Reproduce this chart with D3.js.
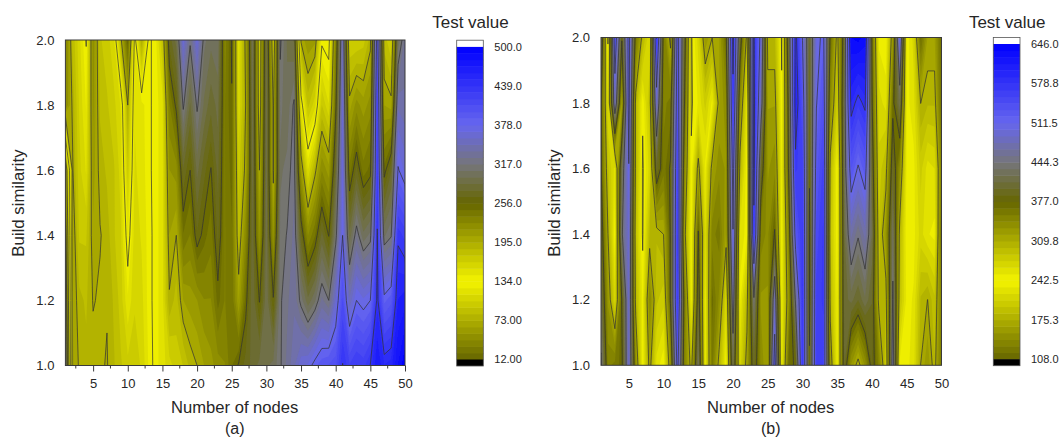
<!DOCTYPE html>
<html>
<head>
<meta charset="utf-8">
<script src="https://d3js.org/d3.v7.min.js"></script>
<style>
  html, body { margin: 0; padding: 0; background: #fff; }
  text { font-family: "Liberation Sans", Arial, sans-serif; fill: #262626; }
</style>
</head>
<body>
<div id="chart"></div>
<script>
// Build similarity levels, one value per column of the tables below
var simLevels = [1.0, 1.2, 1.4, 1.6, 1.8, 2.0];

// Panel (a) test value, one line per node (1..50)
var valuesA = [
  [330,300,270,230,40,35],
  [60,62,60,70,75,85],
  [75,80,95,100,105,110],
  [80,85,95,115,125,135],
  [78,72,65,58,50,45],
  [75,75,72,78,85,92],
  [72,74,78,85,92,98],
  [82,85,92,92,100,112],
  [92,98,102,108,115,190],
  [100,122,145,170,195,255],
  [98,105,108,112,115,125],
  [105,110,115,118,120,195],
  [125,128,128,130,130,130],
  [140,140,140,140,140,140],
  [150,150,150,150,150,175],
  [160,193,205,215,235,270],
  [170,180,195,220,260,290],
  [175,205,245,275,320,365],
  [188,210,235,256,285,320],
  [195,215,265,290,320,365],
  [205,225,250,270,295,310],
  [212,225,240,255,280,300],
  [220,250,270,280,290,305],
  [225,235,235,235,235,230],
  [245,245,245,250,255,258],
  [258,205,180,170,155,150],
  [270,250,225,200,195,200],
  [280,285,285,290,295,300],
  [290,255,215,195,175,170],
  [295,295,295,295,295,290],
  [300,258,215,190,190,170],
  [315,315,310,305,310,320],
  [330,325,318,310,300,295],
  [345,335,330,325,320,285],
  [365,312,270,210,145,70],
  [370,290,225,155,90,55],
  [385,305,245,190,110,60],
  [395,330,280,225,175,130],
  [400,317,255,210,155,125],
  [405,360,310,280,250,230],
  [440,410,378,370,365,350],
  [420,350,290,240,200,165],
  [430,378,325,270,220,165],
  [425,370,300,240,210,170],
  [440,378,310,250,220,190],
  [470,445,440,430,425,400],
  [450,385,305,250,205,180],
  [455,395,315,275,200,165],
  [480,460,435,380,345,300],
  [500,465,425,365,340,330]
];

// Panel (b) test value, one line per node (1..50)
var valuesB = [
  [450,420,400,380,380,420],
  [350,330,310,290,265,240],
  [360,270,245,260,480,550],
  [370,380,440,420,320,380],
  [490,490,495,510,530,530],
  [340,300,290,300,300,360],
  [245,250,240,240,245,300],
  [320,345,300,270,290,265],
  [260,290,300,400,490,580],
  [245,280,310,360,350,360],
  [330,380,380,380,360,300],
  [530,570,570,560,540,530],
  [350,360,320,350,380,400],
  [300,250,245,245,240,240],
  [430,400,380,320,255,270],
  [250,250,265,250,280,330],
  [360,370,350,320,250,310],
  [300,340,360,340,320,320],
  [245,270,320,330,340,370],
  [420,470,510,530,570,590],
  [270,250,260,300,340,400],
  [320,300,250,245,260,300],
  [400,440,570,590,590,580],
  [340,330,350,400,470,500],
  [320,330,340,330,320,300],
  [540,480,380,340,320,300],
  [250,250,245,250,245,240],
  [370,330,350,380,390,410],
  [380,450,530,570,600,590],
  [570,575,570,560,540,510],
  [380,370,370,380,390,400],
  [560,560,550,530,510,500],
  [560,570,570,560,540,520],
  [330,300,290,300,340,370],
  [250,250,245,245,280,300],
  [400,405,410,420,420,400],
  [330,415,470,535,590,635],
  [300,400,447,508,570,640],
  [335,420,472,530,585,630],
  [390,400,420,400,380,370],
  [350,300,290,280,270,250],
  [280,300,330,300,260,245],
  [470,450,430,400,370,330],
  [250,290,300,340,420,510],
  [250,250,245,250,250,245],
  [260,255,250,250,260,270],
  [310,300,270,280,310,370],
  [330,310,255,260,300,320],
  [300,290,250,265,300,320],
  [360,350,370,350,370,370]
];

// Legend ticks as printed on each colour bar
var levelsA = [12, 73, 134, 195, 256, 317, 378, 439, 500];
var labelsA = ["12.00", "73.00", "134.0", "195.0", "256.0", "317.0", "378.0", "439.0", "500.0"];
var levelsB = [108, 175.3, 242.5, 309.8, 377, 444.3, 511.5, 578.8, 646];
var labelsB = ["108.0", "175.3", "242.5", "309.8", "377.0", "444.3", "511.5", "578.8", "646.0"];

var xTicks = [5, 10, 15, 20, 25, 30, 35, 40, 45, 50];
var xMinorTicks = [2.5, 7.5, 12.5, 17.5, 22.5, 27.5, 32.5, 37.5, 42.5, 47.5];
var yTicks = [1.0, 1.2, 1.4, 1.6, 1.8, 2.0];

// Colours at levels 0,2,4,5,6,8 of the legend ticks
var colorStops = ["#666600", "#f4f400", "#666600", "#75757a", "#6666ee", "#0000ff"];
var bandCount = 48;

var svg = d3.select("#chart").append("svg")
  .attr("width", 1059)
  .attr("height", 439)
  .style("display", "block");

// slight softening, the original is a scaled bitmap
svg.append("defs").append("filter")
  .attr("id", "soft")
  .append("feGaussianBlur")
  .attr("stdDeviation", 0.45);

function drawPanel(p) {
  var x = d3.scaleLinear().domain([1, 50]).range([p.left, p.right]);
  var y = d3.scaleLinear().domain([1, 2]).range([p.bottom, p.top]);

  var lv = p.levels;
  var color = d3.scaleLinear()
    .domain([lv[0], lv[2], lv[4], lv[5], lv[6], lv[8]])
    .range(colorStops);

  var step = (lv[8] - lv[0]) / bandCount;
  var thresholds = d3.range(bandCount).map(function(i) { return lv[0] + i * step; });

  // flatten node/level table for d3.contours, row 0 = similarity 1.0
  var grid = [];
  simLevels.forEach(function(s, j) {
    p.values.forEach(function(col) { grid.push(col[j]); });
  });

  var contours = d3.contours()
    .size([p.values.length, simLevels.length]);

  // contour space has each value at index + 0.5
  var path = d3.geoPath(d3.geoTransform({
    point: function(cx, cy) {
      var sim = simLevels[0] + (cy - 0.5) * (simLevels[1] - simLevels[0]);
      this.stream.point(x(cx + 0.5), y(sim));
    }
  }));

  svg.append("clipPath")
    .attr("id", p.id + "-clip")
    .append("rect")
    .attr("x", p.left)
    .attr("y", p.top)
    .attr("width", p.right - p.left)
    .attr("height", p.bottom - p.top);

  var plot = svg.append("g")
    .attr("clip-path", "url(#" + p.id + "-clip)")
    .append("g")
    .attr("filter", "url(#soft)");

  plot.append("rect")
    .attr("x", p.left)
    .attr("y", p.top)
    .attr("width", p.right - p.left)
    .attr("height", p.bottom - p.top)
    .attr("fill", color(lv[0]));

  plot.selectAll("path.band")
    .data(contours.thresholds(thresholds)(grid))
    .enter()
    .append("path")
    .attr("class", "band")
    .attr("d", path)
    .attr("fill", function(d) { return color(d.value + step / 2); });

  plot.selectAll("path.line")
    .data(contours.thresholds(lv.slice(1, 8))(grid))
    .enter()
    .append("path")
    .attr("class", "line")
    .attr("d", path)
    .attr("fill", "none")
    .attr("stroke", "#333")
    .attr("stroke-opacity", 0.8)
    .attr("stroke-width", 0.9);

  svg.append("rect")
    .attr("x", p.left)
    .attr("y", p.top)
    .attr("width", p.right - p.left)
    .attr("height", p.bottom - p.top)
    .attr("fill", "none")
    .attr("stroke", "#3a3a3a")
    .attr("stroke-width", 1);

  // axes
  var xAxis = svg.append("g")
    .attr("transform", "translate(0," + p.bottom + ")")
    .call(d3.axisBottom(x).tickValues(xTicks).tickSize(p.tickLen).tickPadding(p.tickLen ? 14 - p.tickLen : 14));
  xAxis.select(".domain").remove();
  xAxis.selectAll("text").style("font-size", "13px").attr("y", 13).attr("dy", "0.71em");
  xAxis.selectAll("line").attr("stroke", "#3a3a3a");

  if (p.tickLen) {
    svg.append("g")
      .selectAll("line")
      .data(xMinorTicks)
      .enter()
      .append("line")
      .attr("x1", function(d) { return x(d); })
      .attr("x2", function(d) { return x(d); })
      .attr("y1", p.bottom)
      .attr("y2", p.bottom + 3)
      .attr("stroke", "#3a3a3a");
  }

  var yAxis = svg.append("g")
    .attr("transform", "translate(" + p.left + ",0)")
    .call(d3.axisLeft(y).tickValues(yTicks).tickSize(0).tickPadding(11).tickFormat(d3.format(".1f")));
  yAxis.select(".domain").remove();
  yAxis.selectAll("text").style("font-size", "13px");

  svg.append("text")
    .attr("x", (p.left + p.right) / 2 - 0.5)
    .attr("y", 413)
    .attr("text-anchor", "middle")
    .style("font-size", "16.6px")
    .text("Number of nodes");

  svg.append("text")
    .attr("x", (p.left + p.right) / 2 - 0.5)
    .attr("y", 434)
    .attr("text-anchor", "middle")
    .style("font-size", "16px")
    .text(p.caption);

  svg.append("text")
    .attr("transform", "translate(" + p.yTitleX + ",203) rotate(-90)")
    .attr("text-anchor", "middle")
    .style("font-size", "16.8px")
    .text("Build similarity");

  // colour bar
  var barY = d3.scaleLinear().domain([lv[0], lv[8]]).range([p.barBottom, p.barTop]);
  var barH = p.barBottom - barY(lv[0] + step);

  svg.append("g")
    .selectAll("rect")
    .data(thresholds)
    .enter()
    .append("rect")
    .attr("x", p.barX)
    .attr("y", function(d) { return barY(d + step); })
    .attr("width", p.barW)
    .attr("height", barH + 0.5)
    .attr("fill", function(d) { return color(d + step / 2); });

  svg.append("rect")
    .attr("x", p.barX)
    .attr("y", p.barBottom)
    .attr("width", p.barW)
    .attr("height", 6.5)
    .attr("fill", "#000");

  svg.append("rect")
    .attr("x", p.barX)
    .attr("y", p.barTop - 6.5)
    .attr("width", p.barW)
    .attr("height", 6.5)
    .attr("fill", "#fff");

  svg.append("rect")
    .attr("x", p.barX)
    .attr("y", p.barTop - 6.5)
    .attr("width", p.barW)
    .attr("height", p.barBottom - p.barTop + 13)
    .attr("fill", "none")
    .attr("stroke", "#555")
    .attr("stroke-width", 0.8);

  svg.append("g")
    .selectAll("text")
    .data(lv)
    .enter()
    .append("text")
    .attr("x", p.barX + p.barW + 11)
    .attr("y", function(d) { return barY(d); })
    .attr("dy", "0.35em")
    .style("font-size", "11px")
    .text(function(d, i) { return p.labels[i]; });

  svg.append("text")
    .attr("x", p.barX + p.barW / 2 + 0.5)
    .attr("y", 28)
    .attr("text-anchor", "middle")
    .style("font-size", "17px")
    .text("Test value");
}

drawPanel({
  id: "a", values: valuesA, levels: levelsA, labels: labelsA, caption: "(a)",
  left: 65.4, right: 405, top: 40, bottom: 365.5, tickLen: 6, yTitleX: 24,
  barX: 456.7, barW: 26.6, barTop: 46.7, barBottom: 359.5
});

drawPanel({
  id: "b", values: valuesB, levels: levelsB, labels: labelsB, caption: "(b)",
  left: 601, right: 941.5, top: 37.5, bottom: 365.3, tickLen: 0, yTitleX: 560,
  barX: 993.3, barW: 26.7, barTop: 44, barBottom: 359.2
});
</script>
</body>
</html>
